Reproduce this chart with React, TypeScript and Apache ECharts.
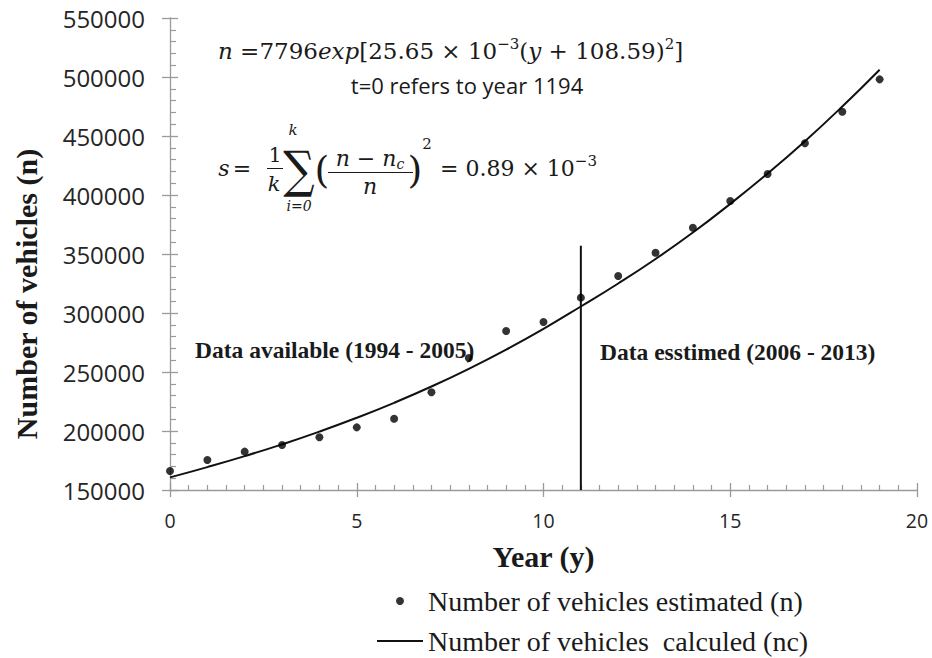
import React, { useEffect, useRef } from "react";
import * as echarts from "echarts";

// ---- data ----
const years = [0, 1, 2, 3, 4, 5, 6, 7, 8, 9, 10, 11, 12, 13, 14, 15, 16, 17, 18, 19];
const estimated = [
  166100, 175400, 182500, 188100, 194700, 203100, 210400, 232800, 261900, 284700,
  292400, 313000, 331400, 351100, 372300, 394900, 417800, 443800, 470600, 498000,
];
const calculated = [
  160700, 169400, 178700, 188700, 199500, 211200, 223900, 237700, 252700, 269000,
  286600, 305500, 325000, 345800, 368200, 392500, 418200, 445600, 475000, 506200,
];
const dividerYear = 11;
const dividerRange = [150000, 357000];
const xRange = [0, 20, 5];
const yRange = [150000, 550000, 50000];

const estName = "Number of vehicles estimated (n)";
const calcName = "Number of vehicles  calculed (nc)";

const AXIS_GREY = "#9a9a9a";
const INK = "#1a1a1a";
const MATH = "DejaVu Serif";
const SERIF = "Liberation Serif";
const SANS = "Open Sans";

export default function App() {
  const ref = useRef<HTMLDivElement>(null);
  useEffect(() => {
    const chart = echarts.init(ref.current!, null, { renderer: "svg" });
    const grid = { left: 170, top: 18, width: 747, height: 472 };
    const option: any = {
      animation: false,
      backgroundColor: "#ffffff",
      grid,
      legend: {
        orient: "vertical",
        left: 377,
        top: 587,
        padding: 0,
        align: "left",
        itemWidth: 46,
        itemHeight: 8,
        itemGap: 12,
        data: [
          { name: estName, icon: "circle" },
          { name: calcName, icon: "path://M0,0H46V2H0Z" },
        ],
        textStyle: { fontFamily: SERIF, fontSize: 28, color: INK },
      },
      xAxis: [
        {
          type: "value",
          min: xRange[0],
          max: xRange[1],
          interval: xRange[2],
          position: "bottom",
          axisLine: { onZero: false, lineStyle: { color: AXIS_GREY, width: 1.3 } },
          axisTick: { inside: true, length: 7, lineStyle: { color: AXIS_GREY, width: 1.3 } },
          minorTick: { show: true, splitNumber: 10, length: 5, lineStyle: { color: AXIS_GREY, width: 1.2 } },
          splitLine: { show: false },
          axisLabel: { fontFamily: SANS, fontSize: 19.5, color: "#262626", margin: 20 },
          name: "Year (y)",
          nameLocation: "middle",
          nameGap: 51,
          nameTextStyle: { fontFamily: SERIF, fontWeight: "bold", fontSize: 30, color: INK },
        },
        {
          type: "value",
          min: xRange[0],
          max: xRange[1],
          interval: xRange[2],
          position: "bottom",
          axisLine: { show: false, onZero: false },
          axisTick: { inside: false, length: 7, lineStyle: { color: AXIS_GREY, width: 1.3 } },
          axisLabel: { show: false },
          splitLine: { show: false },
        },
      ],
      yAxis: [
        {
          type: "value",
          min: yRange[0],
          max: yRange[1],
          interval: yRange[2],
          position: "left",
          axisLine: { show: true, onZero: false, lineStyle: { color: AXIS_GREY, width: 1.3 } },
          axisTick: { show: true, inside: true, length: 8, lineStyle: { color: AXIS_GREY, width: 1.3 } },
          minorTick: { show: true, splitNumber: 5, length: 6, lineStyle: { color: AXIS_GREY, width: 1.2 } },
          splitLine: { show: false },
          axisLabel: {
            fontFamily: SANS,
            fontSize: 24,
            color: "#262626",
            margin: 25,
            formatter: (v: number) => String(v),
          },
        },
        {
          type: "value",
          min: yRange[0],
          max: yRange[1],
          interval: yRange[2],
          position: "left",
          axisLine: { show: false, onZero: false },
          axisTick: { show: true, inside: false, length: 8, lineStyle: { color: AXIS_GREY, width: 1.3 } },
          axisLabel: { show: false },
          splitLine: { show: false },
        },
      ],
      series: [
        {
          name: calcName,
          type: "line",
          smooth: true,
          symbol: "none",
          lineStyle: { color: "#111", width: 2 },
          itemStyle: { color: "#111" },
          data: years.map((y, i) => [y, calculated[i]]),
          z: 2,
        },
        {
          name: estName,
          type: "scatter",
          symbol: "circle",
          symbolSize: 8,
          itemStyle: { color: "#000" },
          data: years.map((y, i) => [y, estimated[i]]),
          z: 3,
        },
        {
          name: "divider",
          type: "line",
          symbol: "none",
          lineStyle: { color: "#111", width: 2 },
          data: dividerRange.map((v) => [dividerYear, v]),
          z: 2,
        },
      ],
      graphic: [
        {
          type: "text",
          x: 26,
          y: 294,
          rotation: Math.PI / 2,
          style: {
            text: "Number of vehicles (n)",
            font: `bold 30px "${SERIF}"`,
            fill: INK,
            align: "center",
            verticalAlign: "middle",
          },
        },
        {
          type: "text",
          x: 195,
          y: 350,
          style: {
            text: "Data available (1994 - 2005)",
            font: `bold 23.5px "${SERIF}"`,
            fill: INK,
            align: "left",
            verticalAlign: "middle",
          },
        },
        {
          type: "text",
          x: 600,
          y: 352,
          style: {
            text: "Data esstimed (2006 - 2013)",
            font: `bold 23.5px "${SERIF}"`,
            fill: INK,
            align: "left",
            verticalAlign: "middle",
          },
        },
        // formula line 1
        {
          type: "text",
          x: 218,
          y: 51,
          style: {
            text: "{i|n} =7796{i|exp}[25.65 × 10{sup|−3}({i|y} + 108.59){sup|2}]",
            font: `23px "${MATH}"`,
            fill: INK,
            align: "left",
            verticalAlign: "middle",
            rich: {
              i: { fontStyle: "italic", fontFamily: MATH, fontSize: 23 },
              sup: { fontFamily: MATH, fontSize: 15, verticalAlign: "top", lineHeight: 30 },
            },
          },
        },
        {
          type: "text",
          x: 467,
          y: 85,
          style: {
            text: "t=0 refers to year 1194",
            font: `22px "${SANS}"`,
            fill: INK,
            align: "center",
            verticalAlign: "middle",
          },
        },
        // formula line 2: s = 1/k Σ ((n − n_c)/n)^2 = 0.89 × 10^-3
        { type: "text", x: 224, y: 168, style: { text: "s", font: `italic 22px "${MATH}"`, fill: INK, align: "center", verticalAlign: "middle" } },
        { type: "text", x: 242, y: 168, style: { text: "=", font: `22px "${MATH}"`, fill: INK, align: "center", verticalAlign: "middle" } },
        { type: "text", x: 275, y: 155, style: { text: "1", font: `20px "${MATH}"`, fill: INK, align: "center", verticalAlign: "middle" } },
        { type: "line", shape: { x1: 267, y1: 168.5, x2: 283, y2: 168.5 }, style: { stroke: INK, lineWidth: 1 } },
        { type: "text", x: 274, y: 184, style: { text: "k", font: `italic 21px "${MATH}"`, fill: INK, align: "center", verticalAlign: "middle" } },
        {
          type: "text",
          x: 299,
          y: 169,
          scaleY: 1.15,
          style: { text: "∑", font: `44px "${MATH}"`, lineHeight: 40, fill: INK, align: "center", verticalAlign: "middle" },
        },
        { type: "text", x: 293, y: 130, style: { text: "k", font: `italic 15px "${MATH}"`, fill: INK, align: "center", verticalAlign: "middle" } },
        { type: "text", x: 299, y: 206, style: { text: "i=0", font: `italic 14px "${MATH}"`, fill: INK, align: "center", verticalAlign: "middle" } },
        { type: "text", x: 322, y: 170, style: { text: "(", font: `38px "${MATH}"`, fill: INK, align: "center", verticalAlign: "middle" } },
        {
          type: "text",
          x: 370,
          y: 158,
          style: {
            text: "{i|n} − {i|n}{sub|c}",
            font: `22px "${MATH}"`,
            fill: INK,
            align: "center",
            verticalAlign: "middle",
            rich: {
              i: { fontStyle: "italic", fontFamily: MATH, fontSize: 22 },
              sub: { fontStyle: "italic", fontFamily: MATH, fontSize: 14, verticalAlign: "bottom", lineHeight: 26 },
            },
          },
        },
        { type: "line", shape: { x1: 328, y1: 172.5, x2: 413, y2: 172.5 }, style: { stroke: INK, lineWidth: 1 } },
        { type: "text", x: 370, y: 186, style: { text: "n", font: `italic 22px "${MATH}"`, fill: INK, align: "center", verticalAlign: "middle" } },
        { type: "text", x: 415, y: 170, style: { text: ")", font: `38px "${MATH}"`, fill: INK, align: "center", verticalAlign: "middle" } },
        { type: "text", x: 427, y: 144, style: { text: "2", font: `15px "${MATH}"`, fill: INK, align: "center", verticalAlign: "middle" } },
        {
          type: "text",
          x: 440,
          y: 168,
          style: {
            text: "= 0.89 × 10{sup|−3}",
            font: `22px "${MATH}"`,
            fill: INK,
            align: "left",
            verticalAlign: "middle",
            rich: {
              sup: { fontFamily: MATH, fontSize: 15, verticalAlign: "top", lineHeight: 30 },
            },
          },
        },
      ],
    };
    chart.setOption(option);
    return () => chart.dispose();
  }, []);
  return (
    <div
      ref={ref}
      style={{ position: "absolute", left: 0, top: 0, width: 932, height: 658 }}
    />
  );
}
